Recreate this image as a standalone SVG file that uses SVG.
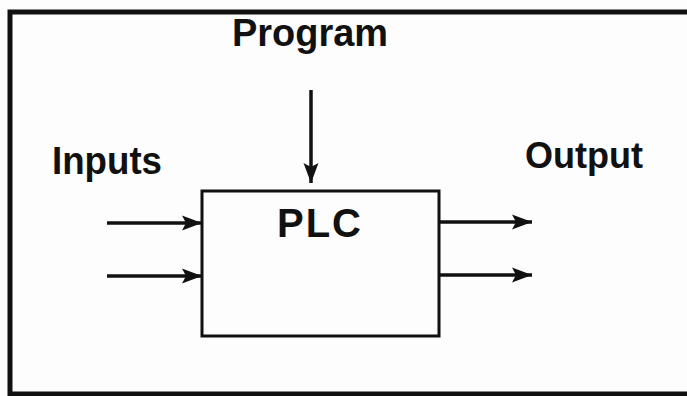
<svg xmlns="http://www.w3.org/2000/svg" width="687" height="396" viewBox="0 0 687 396">
<style>
.lbl{font-family:"Liberation Sans",Arial,sans-serif;font-weight:bold;fill:#111;}
.wire{stroke:#111;stroke-width:3.5;fill:none;}
</style>
<defs>
<marker id="ah" markerUnits="userSpaceOnUse" markerWidth="20" markerHeight="16" refX="20" refY="8" orient="auto">
<path d="M0,0.5 L20,8 L0,15.5 L4,8 Z" fill="#111"/>
</marker>
</defs>
<rect width="687" height="396" fill="#fdfdfd"/>
<rect x="10" y="12" width="690" height="382" fill="none" stroke="#111" stroke-width="5"/>
<g id="plc">
<rect x="202" y="191" width="237" height="145" fill="none" stroke="#111" stroke-width="3"/>
<text class="lbl" x="320" y="237" font-size="40" text-anchor="middle" letter-spacing="2">PLC</text>
</g>
<g id="program-label"><text class="lbl" x="232" y="46" font-size="38" textLength="156" lengthAdjust="spacingAndGlyphs">Program</text></g>
<g id="inputs-label"><text class="lbl" x="52" y="174" font-size="39" textLength="110" lengthAdjust="spacingAndGlyphs">Inputs</text></g>
<g id="output-label"><text class="lbl" x="525" y="168" font-size="37" textLength="118" lengthAdjust="spacingAndGlyphs">Output</text></g>
<g id="connectors">
<line class="wire" x1="311" y1="90" x2="311" y2="183" marker-end="url(#ah)"/>
<line class="wire" x1="107" y1="223" x2="202" y2="223" marker-end="url(#ah)"/>
<line class="wire" x1="107" y1="276" x2="202" y2="276" marker-end="url(#ah)"/>
<line class="wire" x1="439" y1="222" x2="532" y2="222" marker-end="url(#ah)"/>
<line class="wire" x1="439" y1="275" x2="532" y2="275" marker-end="url(#ah)"/>
</g>
</svg>
